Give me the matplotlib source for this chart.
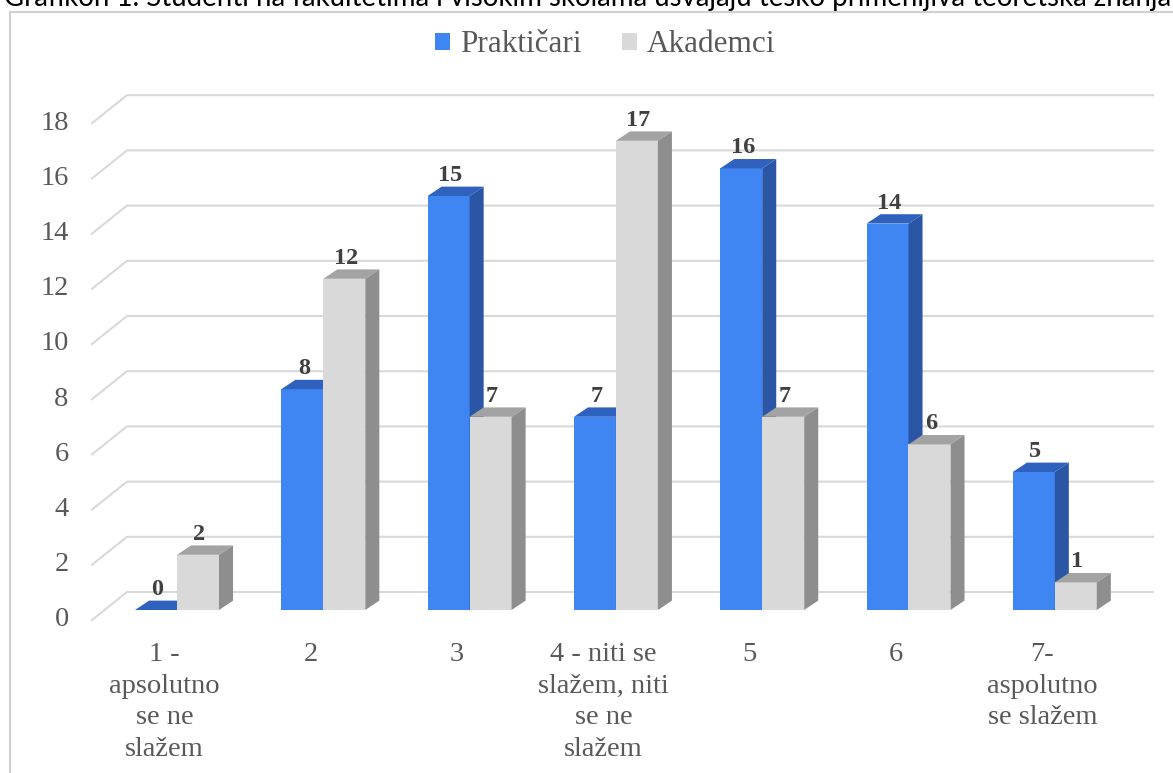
import matplotlib
matplotlib.use("Agg")
import matplotlib.pyplot as plt
from matplotlib.patches import Polygon, Rectangle, Patch

title = "Grafikon 1. Studenti na fakultetima i visokim školama usvajaju teško primenljiva teoretska znanja"
categories = ["1 -\napsolutno\nse ne\nslažem", "2", "3",
              "4 - niti se\nslažem, niti\nse ne\nslažem", "5", "6",
              "7-\naspolutno\nse slažem"]
series_names = ["Praktičari", "Akademci"]
prakticari = [0, 8, 15, 7, 16, 14, 5]
akademci = [2, 12, 7, 17, 7, 6, 1]
yticks = list(range(0, 19, 2))

# faces: front, top, side
blue = ("#3f86f2", "#2f62be", "#2b56a6")
grey = ("#d9d9d9", "#a3a3a3", "#8e8e8e")
text_col = "#595959"
grid_col = "#d9d9d9"

W, H = 1173, 773
fig = plt.figure(figsize=(W / 100, H / 100), dpi=100)
ax = fig.add_axes([0, 0, 1, 1])
# one category step = 146.3 px, one value unit = 27.6 px
ax.set_xlim(-177 / 146.3, (W - 177) / 146.3)
ax.set_ylim((610 - H) / 27.6, 610 / 27.6)
ax.axis("off")

bw = 0.287          # bar width in category units
dx, dy = 0.096, 0.34  # bar depth offset
gx0, gx1, gx2 = -0.581, -0.342, 6.671  # wall grid x: front, back, right end
gy_front, gy_back = -0.362, 0.652

serif = "Liberation Serif"

for v in yticks:
    ax.plot([gx0, gx1, gx2], [v + gy_front, v + gy_back, v + gy_back],
            color=grid_col, lw=1.5, zorder=1)
    ax.text(-0.74, v + gy_front, str(v), ha="right", va="center",
            fontsize=20.5, family=serif, color=text_col)


def bar3d(x0, h, cols):
    front = ax.bar(x0, h, width=bw, align="edge", color=cols[0], zorder=3)
    top = Polygon([(x0, h), (x0 + bw, h), (x0 + bw + dx, h + dy), (x0 + dx, h + dy)],
                  closed=True, facecolor=cols[1], edgecolor="none", zorder=3)
    side = Polygon([(x0 + bw, 0), (x0 + bw + dx, dy), (x0 + bw + dx, h + dy), (x0 + bw, h)],
                   closed=True, facecolor=cols[2], edgecolor="none", zorder=3)
    ax.add_patch(top)
    ax.add_patch(side)
    ax.text(x0 + bw / 2 + 0.01, h + dy + 0.02, str(h), ha="center", va="bottom",
            fontsize=17.5, fontweight="bold", family=serif, color="#404040", zorder=4)
    return front


for i, (p, a) in enumerate(zip(prakticari, akademci)):
    bar3d(i - bw, p, blue)
    bar3d(i, a, grey)
    ax.text(i - 0.085, -1.15, categories[i], ha="center", va="top", fontsize=20.5,
            family=serif, color=text_col, linespacing=1.36)

handles = [Patch(facecolor=blue[0]), Patch(facecolor=grey[0])]
fig.legend(handles, series_names, loc="center", bbox_to_anchor=(605 / W, 1 - 45 / H),
           ncol=2, frameon=False, prop={"family": serif, "size": 22.5},
           labelcolor=text_col, handlelength=0.5, handleheight=0.5,
           handletextpad=0.3, columnspacing=1.3)

fig.patches.append(Rectangle((10 / W, -0.05), 1.1, 1.05 - 11.7 / H, transform=fig.transFigure,
                             fill=False, edgecolor="#d0d0d0", lw=1.5))
fig.text(4 / W, 1 - 6 / H, title, ha="left", va="baseline", fontsize=19.9,
         family="Lato", color="#000000")

fig.savefig("out.png", dpi=100)
